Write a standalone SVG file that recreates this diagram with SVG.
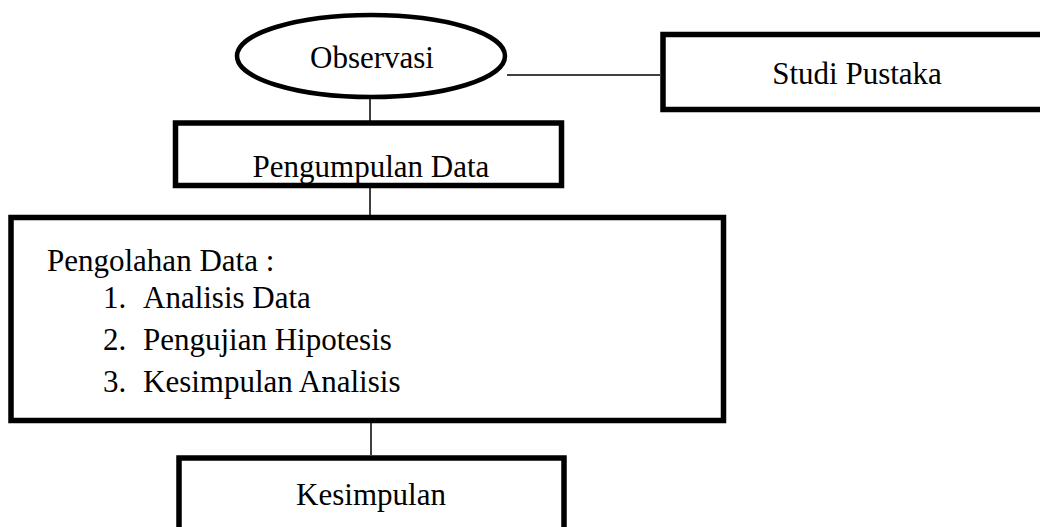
<svg xmlns="http://www.w3.org/2000/svg" width="1040" height="527" viewBox="0 0 1040 527">
<style>
.box{fill:#fff;stroke:#000;stroke-width:5.5}
.conn{stroke:#000;stroke-width:1.5;fill:none}
.t{font-family:"Liberation Serif","Times New Roman",serif;font-size:31px;fill:#000}
.c{text-anchor:middle}
</style>
<rect width="1040" height="527" fill="#fff"/>
<g id="connectors">
<line class="conn" x1="507" y1="75" x2="660" y2="75"/>
<line class="conn" x1="370" y1="98" x2="370" y2="121"/>
<line class="conn" x1="370" y1="188" x2="370" y2="215"/>
<line class="conn" x1="371" y1="423" x2="371" y2="455"/>
</g>
<g id="observasi">
<ellipse cx="371" cy="56" rx="134" ry="41" fill="#fff" stroke="#000" stroke-width="4.5"/>
<text class="t c" x="372" y="68">Observasi</text>
</g>
<g id="studi-pustaka">
<rect class="box" x="663" y="34.5" width="390" height="75"/>
<text class="t c" x="857" y="84">Studi Pustaka</text>
</g>
<g id="pengumpulan">
<rect class="box" x="175.5" y="123" width="386" height="62.5"/>
<text class="t c" x="371" y="177">Pengumpulan Data</text>
</g>
<g id="pengolahan">
<rect class="box" x="11" y="217.5" width="712.5" height="203"/>
<text class="t" x="47" y="271">Pengolahan Data :</text>
<text class="t" x="103" y="308">1.</text>
<text class="t" x="143" y="308">Analisis Data</text>
<text class="t" x="103" y="350">2.</text>
<text class="t" x="143" y="350">Pengujian Hipotesis</text>
<text class="t" x="103" y="392">3.</text>
<text class="t" x="143" y="392">Kesimpulan Analisis</text>
</g>
<g id="kesimpulan">
<rect class="box" x="179" y="458" width="385" height="90"/>
<text class="t c" x="371" y="505">Kesimpulan</text>
</g>
</svg>
